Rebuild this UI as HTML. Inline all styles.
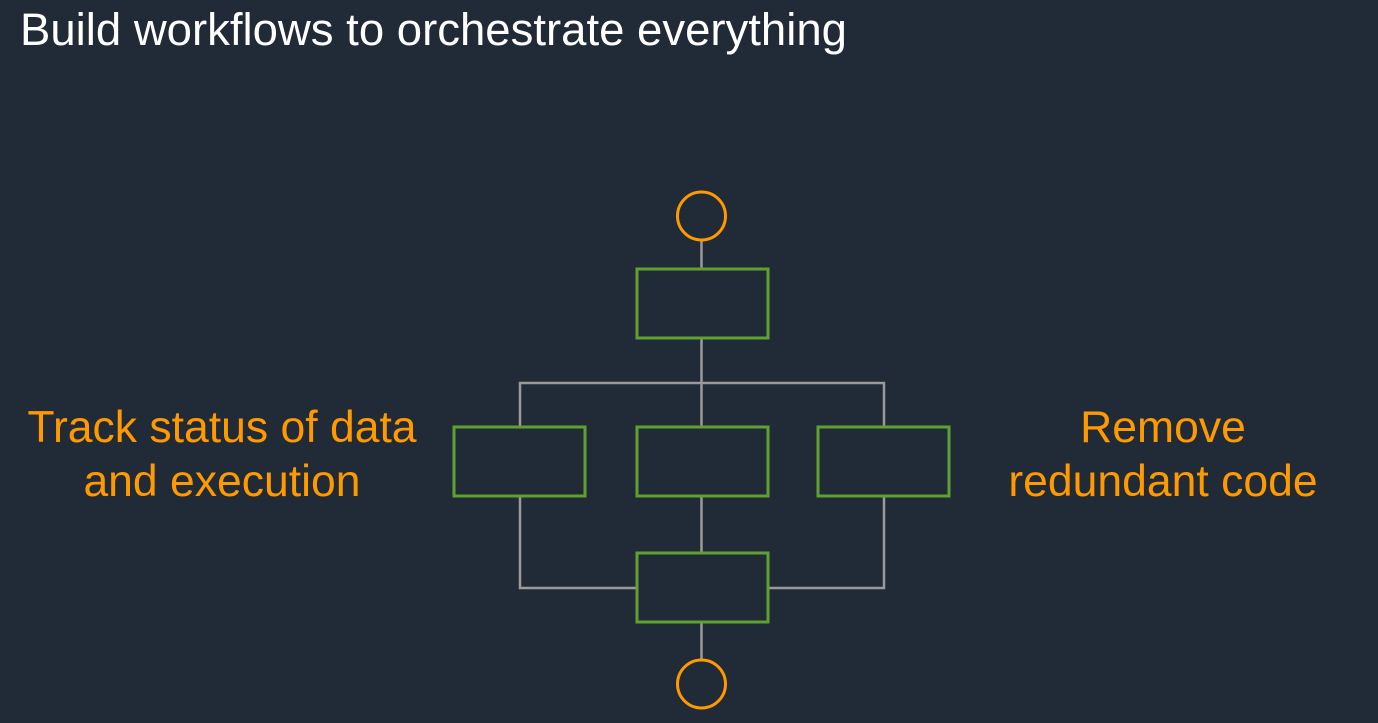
<!DOCTYPE html>
<html><head><style>
html,body{margin:0;padding:0;background:#212a37;width:1378px;height:723px;overflow:hidden}
.t{position:absolute;font-family:"Liberation Sans",sans-serif;white-space:nowrap}
</style></head><body>
<div class="t" style="left:20px;top:4px;font-size:45.5px;color:#fff">Build workflows to orchestrate everything</div>
<div class="t" style="left:0;width:444px;top:401px;font-size:44.5px;color:#ff9900;text-align:center;line-height:54px">Track status of data<br>and execution</div>
<div class="t" style="left:960px;width:406px;top:401px;font-size:44.5px;color:#ff9900;text-align:center;line-height:54px">Remove<br>redundant code</div>
<svg width="1378" height="723" style="position:absolute;left:0;top:0">
<g stroke="#9a9a9a" stroke-width="2.5" fill="none">
<line x1="701.5" y1="240" x2="701.5" y2="269"/>
<line x1="701.5" y1="338" x2="701.5" y2="427"/>
<polyline points="520,427 520,383 884,383 884,427"/>
<polyline points="520,496 520,588 637,588"/>
<polyline points="884,496 884,588 768,588"/>
<line x1="701.5" y1="496" x2="701.5" y2="553"/>
<line x1="701.5" y1="622" x2="701.5" y2="660"/>
</g>
<g stroke="#5ea130" stroke-width="3" fill="none">
<rect x="637" y="269" width="131" height="69"/>
<rect x="454" y="427" width="131" height="69"/>
<rect x="637" y="427" width="131" height="69"/>
<rect x="818" y="427" width="131" height="69"/>
<rect x="637" y="553" width="131" height="69"/>
</g>
<g stroke="#ff9900" stroke-width="3" fill="none">
<circle cx="701.5" cy="216" r="24"/>
<circle cx="701.5" cy="684" r="24"/>
</g>
</svg>
</body></html>
